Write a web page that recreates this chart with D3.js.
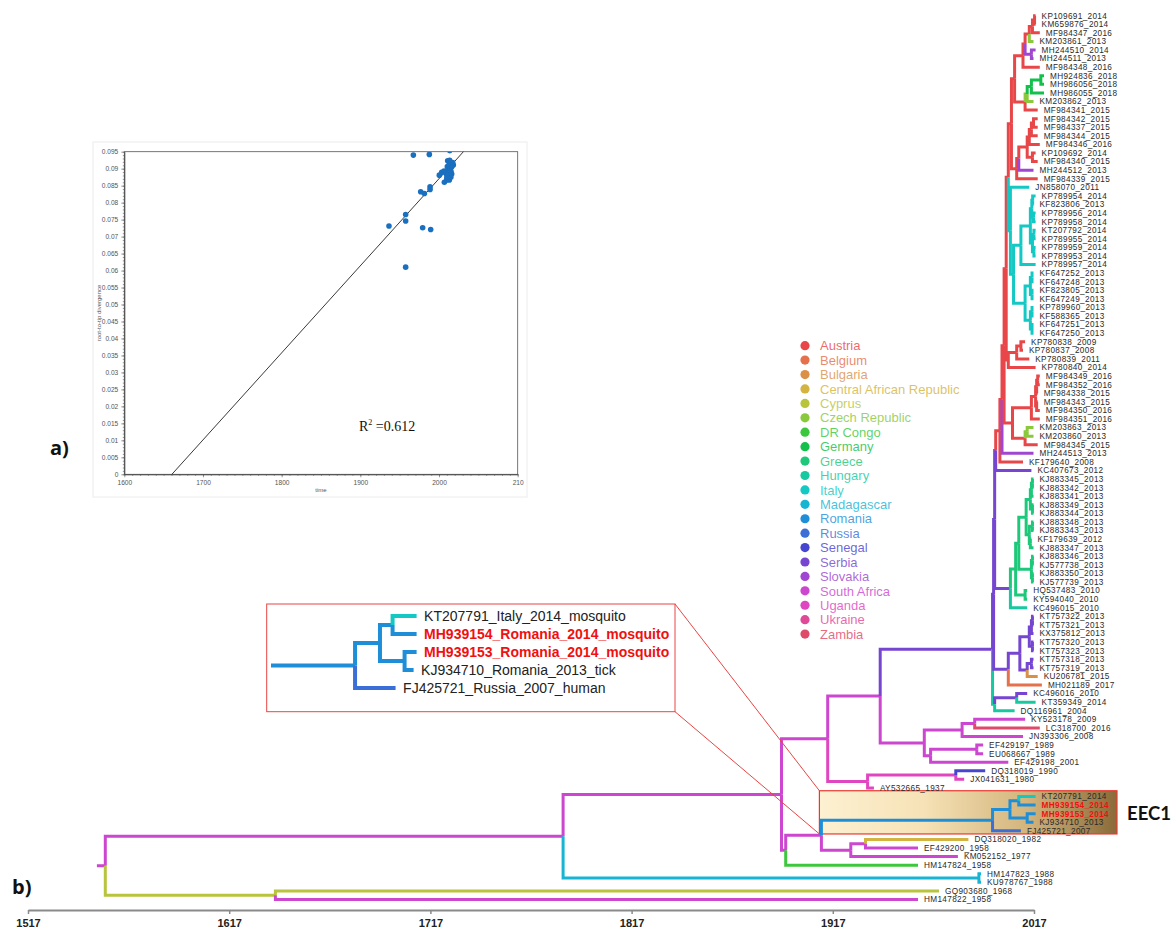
<!DOCTYPE html>
<html><head><meta charset="utf-8">
<script src="https://cdn.jsdelivr.net/npm/d3@7"></script>
<style>body{margin:0;background:#fff}svg{display:block}</style>
</head><body>
<svg id="chart" width="1176" height="934"></svg>
<script>
// ---------------- DATA ----------------
const countries = ["Austria","Belgium","Bulgaria","Central African Republic","Cyprus","Czech Republic","DR Congo","Germany","Greece","Hungary","Italy","Madagascar","Romania","Russia","Senegal","Serbia","Slovakia","South Africa","Uganda","Ukraine","Zambia"];
const countryCodes = ["AT","BE","BG","CF","CY","CZ","CD","DE","GR","HU","IT","MG","RO","RU","SN","RS","SK","ZA","UG","UA","ZM"];
const countryColors = ["#e8474a","#e4704c","#db9048","#d4b440","#b8c43c","#8ac83c","#3cc83c","#14c04c","#1ec87a","#18c8a0","#14c8c4","#18b4d4","#1e8ed8","#3c6ed8","#4646d0","#7646d0","#a046d0","#cc46d0","#e046c0","#e04898","#e04a6a"];

// tree: [node, parent, year (node date), country state]
const treeRows = [
["root",null,1571,"ZA"],["A","root",1789,"ZA"],["C","A",1893,"ZA"],["D","C",1915,"ZA"],["E","D",1940,"ZA"],
["H","E",1993.5,"RS"],["HN3","H",1994,"RS"],["HN2","HN3",1994.5,"RS"],["HN1","HN2",1995,"RS"],
["AUT","HN1",1997,"AT"],["AUT1","AUT",1998,"AT"],["AUT2","AUT1",1999,"AT"],["AUT3","AUT2",2000,"AT"],["AUT4","AUT3",2001,"AT"],["AUT5","AUT4",2002.5,"AT"],
["R1","AUT5",2004,"AT"],["Ua","R1",2008,"AT"],["Ub","Ua",2009,"AT"],["Uc","Ub",2011,"AT"],["Ud","Uc",2012.5,"AT"],["Ue","Ud",2013.5,"AT"],
["KP109691_2014","Ue",2014,"AT"],["KM659876_2014","Ue",2014,"AT"],["MF984347_2016","Ud",2016,"AT"],["KM203861_2013","Uc",2013,"CZ"],
["SK1","Ub",2012,"SK"],["MH244510_2014","SK1",2014,"SK"],["MH244511_2013","SK1",2013,"SK"],["MF984348_2016","Ua",2016,"AT"],
["G2","R1",2009,"AT"],["G3","G2",2010,"CZ"],["G4","G3",2012,"DE"],["G5","G4",2016.5,"DE"],
["MH924836_2018","G5",2018,"DE"],["MH986056_2018","G5",2018,"DE"],["MH986055_2018","G4",2018,"DE"],["KM203862_2013","G3",2013,"CZ"],["MF984341_2015","G2",2015,"AT"],
["R2","AUT5",2005,"AT"],["R2a","R2",2006,"AT"],["R2b","R2a",2010,"AT"],["R2c","R2b",2011,"AT"],["R2e","R2c",2012,"AT"],["R2f","R2e",2013,"AT"],
["MF984342_2015","R2f",2015,"AT"],["MF984337_2015","R2f",2015,"AT"],["MF984344_2015","R2e",2015,"AT"],["MF984346_2016","R2c",2016,"AT"],
["R2d","R2b",2012.5,"AT"],["KP109692_2014","R2d",2014,"AT"],["MF984340_2015","R2d",2015,"AT"],["MH244512_2013","R2a",2013,"SK"],["MF984339_2015","R2",2015,"AT"],
["ItRoot","AUT4",2002,"IT"],["JN858070_2011","ItRoot",2011,"IT"],["It","ItRoot",2003.5,"IT"],["ItA","It",2007,"IT"],["ItA1","ItA",2011.5,"IT"],["ItA2","ItA1",2012.2,"IT"],
["ItA4","ItA2",2012.6,"IT"],["KP789954_2014","ItA4",2014,"IT"],["KF823806_2013","ItA4",2013,"IT"],
["ItA5","ItA2",2013,"IT"],["KP789956_2014","ItA5",2014,"IT"],["KP789958_2014","ItA5",2014,"IT"],
["ItA3","ItA1",2012.5,"IT"],["ItA6","ItA3",2013.2,"IT"],["KT207792_2014","ItA6",2014,"IT"],["KP789955_2014","ItA6",2014,"IT"],
["ItA7","ItA3",2013.2,"IT"],["KP789959_2014","ItA7",2014,"IT"],["KP789953_2014","ItA7",2014,"IT"],["KP789957_2014","ItA",2014,"IT"],
["ItB","It",2009,"IT"],["ItB1","ItB",2011.5,"IT"],["ItB3","ItB1",2012.3,"IT"],["KF647252_2013","ItB3",2013,"IT"],["KF647248_2013","ItB3",2013,"IT"],
["ItB4","ItB1",2012.3,"IT"],["KF823805_2013","ItB4",2013,"IT"],["KF647249_2013","ItB4",2013,"IT"],
["ItB2","ItB",2011.5,"IT"],["ItB5","ItB2",2012.3,"IT"],["KP789960_2013","ItB5",2013,"IT"],["KF588365_2013","ItB5",2013,"IT"],
["ItB6","ItB2",2012.3,"IT"],["KF647251_2013","ItB6",2013,"IT"],["KF647250_2013","ItB6",2013,"IT"],
["K7","AUT3",2001,"AT"],["K7a","K7",2005,"AT"],["K7b","K7a",2007,"AT"],["KP780838_2009","K7b",2009,"AT"],["KP780837_2008","K7b",2008,"AT"],
["KP780839_2011","K7a",2011,"AT"],["KP780840_2014","K7",2014,"AT"],
["LOW","AUT2",2003,"AT"],["LOWa","LOW",2012,"AT"],["LOWc","LOWa",2014,"AT"],["LOWd","LOWc",2014.5,"AT"],["LOWe","LOWd",2015,"AT"],
["MF984349_2016","LOWe",2016,"AT"],["MF984352_2016","LOWe",2016,"AT"],["MF984338_2015","LOWd",2015,"AT"],
["LOWf","LOWc",2014.5,"AT"],["MF984343_2015","LOWf",2015,"AT"],["MF984350_2016","LOWf",2016,"AT"],["MF984351_2016","LOWa",2016,"AT"],
["LOWb","LOW",2009,"AT"],["LOWg","LOWb",2010,"CZ"],["KM203863_2013","LOWg",2013,"CZ"],["KM203860_2013","LOWg",2013,"CZ"],["MF984345_2015","LOWb",2015,"AT"],
["MH244513_2013","AUT1",2013,"SK"],["KF179640_2008","AUT",2008,"AT"],["KC407673_2012","HN1",2012,"RS"],
["GH","HN2",2002,"RS"],["GR","GH",2004.5,"GR"],["GRx","GR",2006,"GR"],["GRa","GRx",2009.5,"GR"],["GRa1","GRa",2011.5,"GR"],["GRa3","GRa1",2012,"GR"],
["GRa4","GRa3",2012.5,"GR"],["KJ883345_2013","GRa4",2013,"GR"],["KJ883342_2013","GRa4",2013,"GR"],["KJ883341_2013","GRa3",2013,"GR"],
["GRa5","GRa1",2012.5,"GR"],["KJ883349_2013","GRa5",2013,"GR"],["KJ883344_2013","GRa5",2013,"GR"],
["GRa2","GRa",2011,"GR"],["GRa6","GRa2",2012.5,"GR"],["KJ883348_2013","GRa6",2013,"GR"],["KJ883343_2013","GRa6",2013,"GR"],
["GRa7","GRa2",2011.5,"GR"],["KF179639_2012","GRa7",2012,"GR"],["KJ883347_2013","GRa7",2013,"GR"],
["GRb","GRx",2012,"GR"],["GRb1","GRb",2012.5,"GR"],["KJ883346_2013","GRb1",2013,"GR"],["KJ577738_2013","GRb1",2013,"GR"],
["GRb2","GRb",2012.5,"GR"],["KJ883350_2013","GRb2",2013,"GR"],["KJ577739_2013","GRb2",2013,"GR"],
["HQKY","GR",2009,"GR"],["HQ537483_2010","HQKY",2010,"GR"],["KY594040_2010","HQKY",2010,"GR"],["KC496015_2010","GH",2010,"HU"],
["S","HN3",2001,"RS"],["SB","S",2006.5,"RS"],["SB1","SB",2011,"RS"],["SB3","SB1",2012,"RS"],["SB4","SB3",2012.5,"RS"],
["KT757322_2013","SB4",2013,"RS"],["KT757321_2013","SB4",2013,"RS"],["KX375812_2013","SB3",2013,"RS"],
["SB5","SB1",2012.5,"RS"],["KT757320_2013","SB5",2013,"RS"],["KT757323_2013","SB5",2013,"RS"],
["SB2","SB",2010,"RS"],["SB6","SB2",2012,"RS"],["KT757318_2013","SB6",2013,"RS"],["KT757319_2013","SB6",2013,"RS"],["KU206781_2015","SB2",2015,"BG"],
["MH021189_2017","S",2017,"BE"],
["H1","H",1994.5,"HU"],["T","H1",2005,"RS"],["KC496016_2010","T",2010,"RS"],["KT359349_2014","T",2014,"HU"],["DQ116961_2004","H1",2004,"HU"],
["I","E",1961,"ZA"],["J","I",1979,"ZA"],["J1","J",1985,"ZA"],["KY523178_2009","J1",2009,"ZA"],["LC318700_2016","J1",2016,"ZM"],["JN393306_2008","J",2008,"ZA"],
["I2","I",1964,"ZA"],["K","I2",1986,"ZA"],["EF429197_1989","K",1989,"ZA"],["EU068667_1989","K",1989,"ZA"],["EF429198_2001","I2",2001,"ZA"],
["F","D",1934,"UG"],["G","F",1976,"UG"],["DQ318019_1990","G",1990,"SN"],["JX041631_1980","G",1980,"UG"],["AY532665_1937","F",1937,"UG"],
["L","C",1895,"ZA"],["M","L",1912,"ZA"],
["O","M",1993.5,"RO"],["P","O",2001.8,"RO"],["Q1","P",2006,"RO"],["KT207791_2014","Q1",2014,"IT"],["MH939154_2014","Q1",2014,"RO"],
["Q2","P",2010,"RO"],["MH939153_2014","Q2",2014,"RO"],["KJ934710_2013","Q2",2013,"RO"],["FJ425721_2007","O",2007,"RU"],
["N2","M",1926,"ZA"],["N3","N2",1933,"ZA"],["DQ318020_1982","N3",1982,"CF"],["EF429200_1958","N3",1958,"ZA"],["KM052152_1977","N2",1977,"ZA"],
["HM147824_1958","L",1958,"CD"],
["R","A",1987,"MG"],["HM147823_1988","R",1988,"MG"],["KU978767_1988","R",1988,"MG"],
["B","root",1652,"CY"],["GQ903680_1968","B",1968,"CY"],["HM147822_1958","B",1958,"ZA"]
];
const rootStubYear = 1567;
const highlightTips = ["MH939154_2014","MH939153_2014"];
const zoomCladeNode = "O";
const zoomTipLabels = ["KT207791_Italy_2014_mosquito","MH939154_Romania_2014_mosquito","MH939153_Romania_2014_mosquito","KJ934710_Romania_2013_tick","FJ425721_Russia_2007_human"];
const cladeLabel = "EEC1";
const axisYears = [1517,1617,1717,1817,1917,2017];

// root-to-tip regression inset
const scatterYears = [1967.4,1987.7,1936.4,1957.6,1957.6,1979.2,1989.4,1957.6,1976.7,1981.4,1988.6,1988.6,2000.4,2003.4,2006.4,2006.8,2009.7,2010.6,2011.0,2012.7,2014.0,2014.8,2015.3,2016.1,2012.7,2013.1,2018.2,2017.4,2011.9,2008.9,2013.0,2014.0,2016.0,2012.0,2015.0,2010.0,2013.5,2013.6];
const scatterDivergence = [0.0940,0.0942,0.0731,0.0765,0.0746,0.0726,0.0721,0.0610,0.0832,0.0827,0.0847,0.0839,0.0881,0.0889,0.0893,0.0860,0.0867,0.0906,0.0923,0.0921,0.0914,0.0901,0.0891,0.0884,0.0878,0.0867,0.0911,0.0918,0.0898,0.0886,0.0910,0.0895,0.0905,0.0885,0.0875,0.0875,0.0925,0.0953];
const regressionEnds = [1660.5, 2031]; // years where the fitted line meets 0 and 0.095
const regressionDivergence = [0, 0.095];
const scatterXTicks = [1600,1700,1800,1900,2000,2100];
const r2Text = "=0.612";

// ---------------- DRAW ----------------
const svg = d3.select("#chart");
const colorOf = d3.scaleOrdinal().domain(countryCodes).range(countryColors);
const FONT = "'Liberation Sans', Arial, sans-serif";
const nameOf = n => n.data[0];

// hierarchy
const rootNode = d3.stratify().id(d => d[0]).parentId(d => d[1])(treeRows);
const leaves = rootNode.leaves();
const xTree = d3.scaleLinear().domain([1958, 2014]).range([918, 1035.6]);
const yLeaf = d3.scaleLinear().domain([0, leaves.length - 1]).range([15.7, 899.5]);
leaves.forEach((l, i) => l.y = yLeaf(i));
rootNode.eachAfter(n => { if (n.children) n.y = (n.children[0].y + n.children[n.children.length - 1].y) / 2; });
rootNode.each(n => { n.year = n.data[2]; n.cc = n.data[3]; });

const defs = svg.append("defs");

// root-to-tip scatter inset (panel a)
svg.append("rect").attr("x", 93).attr("y", 142).attr("width", 434).attr("height", 355).attr("fill", "#fff").attr("stroke", "#ececec");
const xs = d3.scaleLinear().domain([1600, 2100]).range([124.3, 517.7]);
const ys = d3.scaleLinear().domain([0, 0.095]).range([474.3, 151.7]);
defs.append("clipPath").attr("id", "plotClip").append("rect").attr("x", 124.3).attr("y", 151.7).attr("width", 393.4).attr("height", 322.6);
const gS = svg.append("g");
gS.append("rect").attr("x", 124.3).attr("y", 151.7).attr("width", 393.4).attr("height", 322.6).attr("fill", "none").attr("stroke", "#555").attr("stroke-width", 0.8);
const tickFont = g => g.selectAll("text").attr("font-family", FONT).attr("font-size", 6.6).attr("fill", "#555");
const gx = gS.append("g").attr("transform", "translate(0,474.3)")
  .call(d3.axisBottom(xs).tickValues(scatterXTicks).tickFormat(d => d === 2100 ? "210" : String(d)).tickSize(3).tickSizeOuter(0));
gx.call(tickFont); gx.select(".domain").attr("stroke", "#444");
gS.append("g").attr("transform", "translate(0,474.3)")
  .call(d3.axisBottom(xs).ticks(50).tickFormat("").tickSize(1.5).tickSizeOuter(0)).select(".domain").remove();
const gy = gS.append("g").attr("transform", "translate(124.3,0)")
  .call(d3.axisLeft(ys).tickValues(d3.range(0, 0.0951, 0.005)).tickFormat(d => d < 1e-9 ? "0" : d3.format(".3~f")(d)).tickSize(3).tickSizeOuter(0));
gy.call(tickFont); gy.select(".domain").attr("stroke", "#444");
gS.append("g").attr("transform", "translate(124.3,0)")
  .call(d3.axisLeft(ys).tickValues(d3.range(0, 0.0951, 0.001)).tickFormat("").tickSize(1.5).tickSizeOuter(0)).select(".domain").remove();
gS.selectAll(".tick line").attr("stroke", "#555").attr("stroke-width", 0.6);
gS.append("line").attr("x1", xs(regressionEnds[0])).attr("y1", ys(regressionDivergence[0]))
  .attr("x2", xs(regressionEnds[1])).attr("y2", ys(regressionDivergence[1])).attr("stroke", "#222").attr("stroke-width", 0.9);
gS.append("g").attr("clip-path", "url(#plotClip)").selectAll("circle").data(scatterYears).join("circle")
  .attr("cx", d => xs(d)).attr("cy", (d, i) => ys(scatterDivergence[i])).attr("r", 2.8).attr("fill", "#1a6fbf");
gS.append("text").attr("x", xs(1850)).attr("y", 492).attr("text-anchor", "middle").attr("font-family", FONT).attr("font-size", 6).attr("fill", "#555").text("time");
gS.append("text").attr("transform", `translate(101,${ys(0.0475)}) rotate(-90)`).attr("text-anchor", "middle").attr("font-family", FONT).attr("font-size", 6).attr("fill", "#555").text("root-to-tip divergence");
const r2 = gS.append("text").attr("x", 359).attr("y", 431).attr("font-family", "'Liberation Serif', 'Times New Roman', serif").attr("font-size", 14).attr("fill", "#111");
r2.append("tspan").text("R");
r2.append("tspan").attr("font-size", 8).attr("dy", -6).text("2");
r2.append("tspan").attr("dy", 6).text(" " + r2Text);

// EEC1 highlight box (behind tree)
const clade = rootNode.find(n => n.id === zoomCladeNode);
const cl = clade.leaves();
const grad = defs.append("linearGradient").attr("id", "eecGrad").attr("x1", "0%").attr("x2", "100%");
[["0%","#fdf1d2"],["35%","#f6e2b6"],["70%","#d3b47c"],["100%","#8a6a38"]].forEach(s => grad.append("stop").attr("offset", s[0]).attr("stop-color", s[1]));
const box = {x0: xTree(clade.parent.year) - 2, x1: 1117, y0: cl[0].y - 5.8, y1: cl[cl.length - 1].y + 3.1};
svg.append("rect").attr("x", box.x0).attr("y", box.y0).attr("width", box.x1 - box.x0).attr("height", box.y1 - box.y0)
  .attr("fill", "url(#eecGrad)").attr("stroke", "#e8392f").attr("stroke-width", 1.2);
svg.append("text").attr("x", 1127).attr("y", (box.y0 + box.y1) / 2 + 1).attr("dy", "0.35em")
  .attr("font-family", "Lato, 'Open Sans', sans-serif").attr("font-weight", "bold").attr("font-size", 18.5).attr("fill", "#111").text(cladeLabel);

// branches (panel b)
const gTree = svg.append("g").attr("fill", "none").attr("stroke-width", 3);
gTree.append("path").attr("d", `M${xTree(rootStubYear)},${rootNode.y}H${xTree(rootNode.year)}`).attr("stroke", colorOf(rootNode.cc));
rootNode.descendants().filter(n => n.parent).forEach(n => {
  gTree.append("path")
    .attr("d", `M${xTree(n.parent.year)},${n.parent.y}V${n.y}H${xTree(n.year)}`)
    .attr("stroke", colorOf(n.cc));
});
// tip labels
svg.append("g").selectAll("text").data(leaves).join("text")
  .attr("x", d => xTree(d.year) + 6).attr("y", d => d.y).attr("dy", "0.35em")
  .attr("font-family", FONT).attr("font-size", 8.2).attr("letter-spacing", 0.35)
  .attr("font-weight", d => highlightTips.includes(nameOf(d)) ? "bold" : "normal")
  .attr("fill", d => highlightTips.includes(nameOf(d)) ? "#f01010" : "#2a2a2a")
  .text(d => nameOf(d));

// time axis
const xAxisScale = d3.scaleLinear().domain([1517, 2017]).range([28, 1034]);
const gAx = svg.append("g").attr("transform", "translate(0,910)")
  .call(d3.axisBottom(xAxisScale).tickValues(axisYears).tickFormat(d3.format("d")).tickSize(4).tickSizeOuter(0));
gAx.select(".domain").attr("stroke", "#8a8a8a").attr("stroke-width", 2);
gAx.selectAll(".tick line").attr("stroke", "#8a8a8a").attr("stroke-width", 1.5);
gAx.selectAll(".tick text").attr("font-family", "'Liberation Sans Narrow', 'Liberation Sans', sans-serif").attr("font-weight", "bold").attr("font-size", 11).attr("fill", "#222").attr("dy", "0.9em");

// legend
const gLeg = svg.append("g");
countries.forEach((c, i) => {
  const y = 345.7 + i * 14.42;
  gLeg.append("circle").attr("cx", 805).attr("cy", y).attr("r", 4.6).attr("fill", countryColors[i]);
  gLeg.append("text").attr("x", 820).attr("y", y).attr("dy", "0.36em").attr("font-family", FONT).attr("font-size", 13)
    .attr("fill", countryColors[i]).attr("fill-opacity", 0.82).text(c);
});

// zoom inset of EEC1 clade
const zb = {x0: 266.7, y0: 604, x1: 675, y1: 711.7};
svg.append("rect").attr("x", zb.x0).attr("y", zb.y0).attr("width", zb.x1 - zb.x0).attr("height", zb.y1 - zb.y0)
  .attr("fill", "#fff").attr("stroke", "#e84545").attr("stroke-width", 1);
const sub = clade.copy();
sub.each(n => { n.year = n.data[2]; n.cc = n.data[3]; });
const xi = d3.scaleLinear().domain([1965.5, 2014]).range([271, 416.6]);
const yi = d3.scaleLinear().domain([0, 4]).range([616, 688]);
sub.leaves().forEach((l, i) => l.y = yi(i));
sub.eachAfter(n => { if (n.children) n.y = (n.children[0].y + n.children[n.children.length - 1].y) / 2; });
const gIn = svg.append("g").attr("fill", "none").attr("stroke-width", 4);
gIn.append("path").attr("d", `M${xi(1965.5)},${sub.y}H${xi(sub.year)}`).attr("stroke", colorOf(sub.cc));
sub.descendants().filter(n => n.parent).forEach(n => {
  gIn.append("path").attr("d", `M${xi(n.parent.year)},${n.parent.y}V${n.y}H${xi(n.year)}`).attr("stroke", colorOf(n.cc));
});
svg.append("g").selectAll("text").data(sub.leaves()).join("text")
  .attr("x", d => xi(d.year) + 7.5).attr("y", d => d.y).attr("dy", "0.36em")
  .attr("font-family", FONT).attr("font-size", 14)
  .attr("font-weight", d => highlightTips.includes(nameOf(d)) ? "bold" : "normal")
  .attr("fill", d => highlightTips.includes(nameOf(d)) ? "#f01010" : "#222")
  .text(d => zoomTipLabels.find(t => t.startsWith(nameOf(d).split("_")[0])));
// connector lines
svg.append("line").attr("x1", zb.x1).attr("y1", zb.y0).attr("x2", box.x0).attr("y2", box.y0).attr("stroke", "#e84545").attr("stroke-width", 1);
svg.append("line").attr("x1", zb.x1).attr("y1", zb.y1).attr("x2", box.x0).attr("y2", box.y1).attr("stroke", "#e84545").attr("stroke-width", 1);

// panel labels
svg.append("text").attr("x", 50).attr("y", 455).attr("font-family", "'Open Sans', sans-serif").attr("font-weight", "bold").attr("font-size", 20).attr("fill", "#111").text("a)");
svg.append("text").attr("x", 12).attr("y", 894).attr("font-family", "'Open Sans', sans-serif").attr("font-weight", "bold").attr("font-size", 20).attr("fill", "#111").text("b)");
</script>
</body></html>
